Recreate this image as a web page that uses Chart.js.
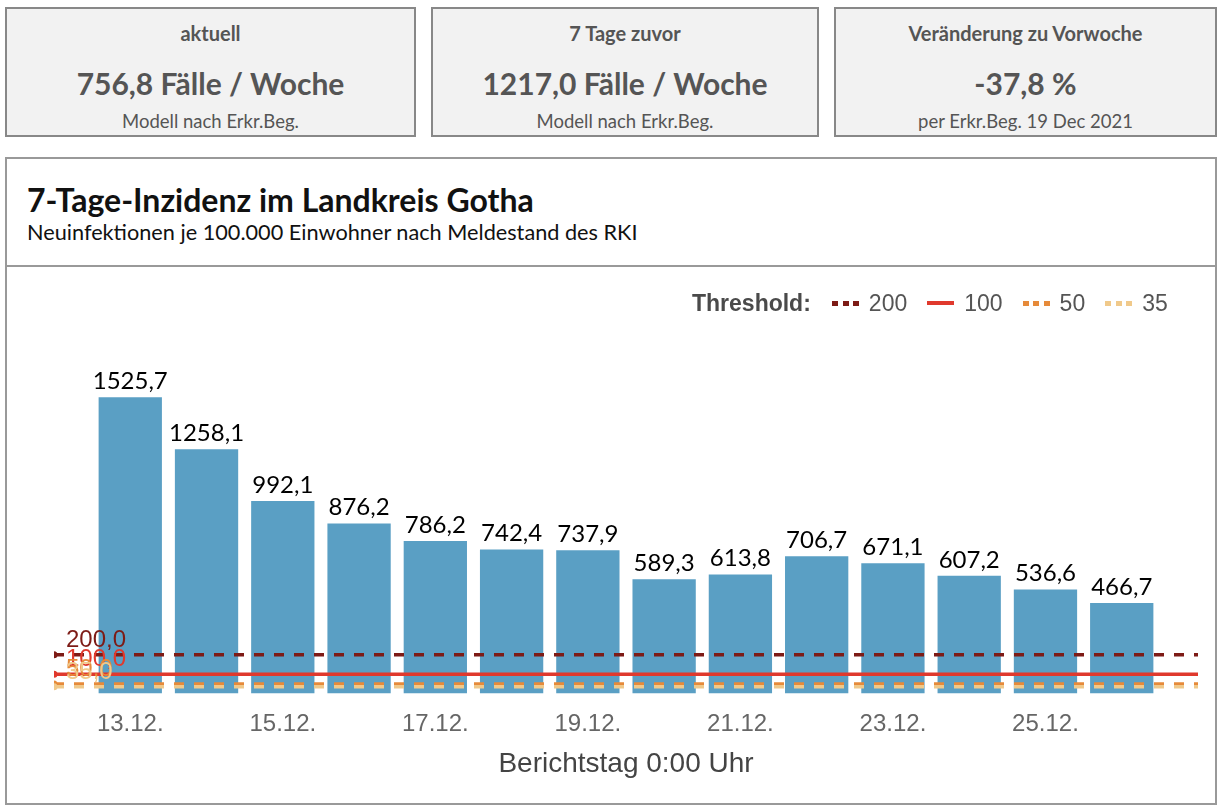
<!DOCTYPE html>
<html>
<head>
<meta charset="utf-8">
<script src="https://cdn.jsdelivr.net/npm/chart.js@4/dist/chart.umd.min.js"></script>
<style>
  body { margin:0; background:#fff; font-family: Lato, "Open Sans", sans-serif; }
  .card { position:absolute; top:7px; height:130px; background:#f2f2f2; border:2px solid #888; color:#555; text-align:center; box-sizing:border-box; }
  .card .t { position:absolute; left:0; right:0; top:12px; font-size:20px; font-weight:bold; line-height:24px; }
  .card .v { position:absolute; left:0; right:0; top:56px; font-size:30px; font-weight:bold; line-height:36px; }
  .card .s { position:absolute; left:0; right:0; top:101px; font-size:18.5px; line-height:22px; }
  #panel { position:absolute; left:5px; top:157px; width:1212px; height:648px; border:2px solid #999; box-sizing:border-box; }
  #hdr { position:absolute; left:0; right:0; top:0; height:106px; border-bottom:2px solid #999; }
  #title { position:absolute; left:20px; top:22px; font-size:32px; line-height:38px; font-weight:bold; color:#111; }
  #sub { position:absolute; left:20px; top:60px; font-size:21.7px; line-height:26px; color:#111; }
  #legend { position:absolute; left:685px; top:130px; height:28px; font-family:"Liberation Sans", Arial, sans-serif; font-size:23px; color:#555; display:flex; align-items:center; white-space:nowrap; }
  #legend b { margin-right:21px; color:#4a4a4a; }
  #legend .sw { width:27px; height:5px; margin-right:10px; }
  #legend .lb { margin-right:20px; }
  #wrap { position:absolute; left:0; top:107px; width:1208px; height:537px; }
</style>
</head>
<body>
<div class="card" style="left:5px;width:411px"><div class="t">aktuell</div><div class="v">756,8 Fälle / Woche</div><div class="s">Modell nach Erkr.Beg.</div></div>
<div class="card" style="left:431px;width:388px"><div class="t">7 Tage zuvor</div><div class="v">1217,0 Fälle / Woche</div><div class="s">Modell nach Erkr.Beg.</div></div>
<div class="card" style="left:834px;width:383px"><div class="t">Veränderung zu Vorwoche</div><div class="v">-37,8 %</div><div class="s">per Erkr.Beg. 19 Dec 2021</div></div>

<div id="panel">
  <div id="hdr">
    <div id="title">7-Tage-Inzidenz im Landkreis Gotha</div>
    <div id="sub">Neuinfektionen je 100.000 Einwohner nach Meldestand des RKI</div>
  </div>
  <div id="wrap"><canvas id="chart"></canvas></div>
  <div id="legend"></div>
</div>

<script>
// --- data
const days = [13, 14, 15, 16, 17, 18, 19, 20, 21, 22, 23, 24, 25, 26];
const incidence = [1525.7, 1258.1, 992.1, 876.2, 786.2, 742.4, 737.9, 589.3, 613.8, 706.7, 671.1, 607.2, 536.6, 466.7];
const tickDays = [13, 15, 17, 19, 21, 23, 25];
const tickLabels = ["13.12.", "15.12.", "17.12.", "19.12.", "21.12.", "23.12.", "25.12."];
const axisRange = [12, 27];
const thresholdValues = [200, 100, 50, 35];
const thresholdColors = ["#7d1b16", "#e0392d", "#e68a3a", "#f0c98a"];
const thresholdDashed = [true, false, true, true];

const fmt = v => v.toFixed(1).replace(".", ",");

// html legend
const legendEl = document.getElementById("legend");
legendEl.innerHTML = "<b>Threshold:</b>" + thresholdValues.map((t, i) => {
  const c = thresholdColors[i];
  const bg = thresholdDashed[i]
    ? `background:repeating-linear-gradient(90deg, ${c} 0 6px, transparent 6px 10.5px)`
    : `background:${c};height:4px`;
  const last = i === thresholdValues.length - 1 ? ' style="margin-right:0"' : "";
  return `<span class="sw" style="${bg}"></span><span class="lb"${last}>${t}</span>`;
}).join("");

// threshold line datasets (start + end of the axis)
const thresholdSets = thresholdValues.map((t, i) => ({
  type: "line",
  data: [{ x: axisRange[0], y: t }, { x: axisRange[1], y: t }],
  borderColor: thresholdColors[i],
  backgroundColor: thresholdColors[i],
  borderWidth: 3.5,
  borderDash: thresholdDashed[i] ? [10, 10] : [],
  pointRadius: [3.5, 0],
  pointBorderWidth: 0,
  order: i === 2 ? 1 : 0
}));

// labels above bars + threshold value labels
const labelPlugin = {
  id: "labels",
  afterDatasetsDraw(chart) {
    const ctx = chart.ctx;
    ctx.save();
    const barMeta = chart.getDatasetMeta(0);
    ctx.font = "24px Lato";
    ctx.fillStyle = "#000";
    ctx.textAlign = "center";
    ctx.textBaseline = "alphabetic";
    barMeta.data.forEach((bar, i) => {
      ctx.fillText(fmt(incidence[i]), bar.x, bar.y - 8);
    });
    ctx.font = "24px 'Liberation Sans', Arial";
    ctx.textAlign = "left";
    thresholdValues.forEach((t, i) => {
      const p = chart.getDatasetMeta(i + 1).data[0];
      ctx.fillStyle = thresholdColors[i];
      ctx.fillText(fmt(t), p.x + 12, p.y - 8);
    });
    ctx.restore();
  }
};

new Chart(document.getElementById("chart").getContext("2d"), {
  type: "bar",
  data: {
    datasets: [{
      type: "bar",
      data: days.map((d, i) => ({ x: d, y: incidence[i] })),
      backgroundColor: "#5a9fc4",
      borderWidth: 0,
      categoryPercentage: 0.83,
      barPercentage: 1,
      order: 2
    }, ...thresholdSets]
  },
  options: {
    responsive: true,
    maintainAspectRatio: false,
    animation: false,
    layout: { padding: { left: 47, right: 17, top: 78, bottom: 22 } },
    plugins: { legend: { display: false }, tooltip: { enabled: false } },
    scales: {
      x: {
        type: "linear",
        min: axisRange[0],
        max: axisRange[1],
        offset: false,
        grid: { display: false, drawTicks: false },
        border: { display: false },
        afterBuildTicks: s => { s.ticks = tickDays.map(v => ({ value: v })); },
        ticks: {
          autoSkip: false,
          maxRotation: 0,
          padding: 16,
          color: "#666",
          font: { family: "'Liberation Sans', Arial", size: 24 },
          callback: v => tickLabels[tickDays.indexOf(v)]
        },
        title: {
          display: true,
          text: "Berichtstag 0:00 Uhr",
          color: "#444",
          padding: { top: -7, bottom: 0 },
          font: { family: "'Liberation Sans', Arial", size: 28 }
        }
      },
      y: { display: false, min: 0, max: 1800 }
    }
  },
  plugins: [labelPlugin]
});
</script>
</body>
</html>
